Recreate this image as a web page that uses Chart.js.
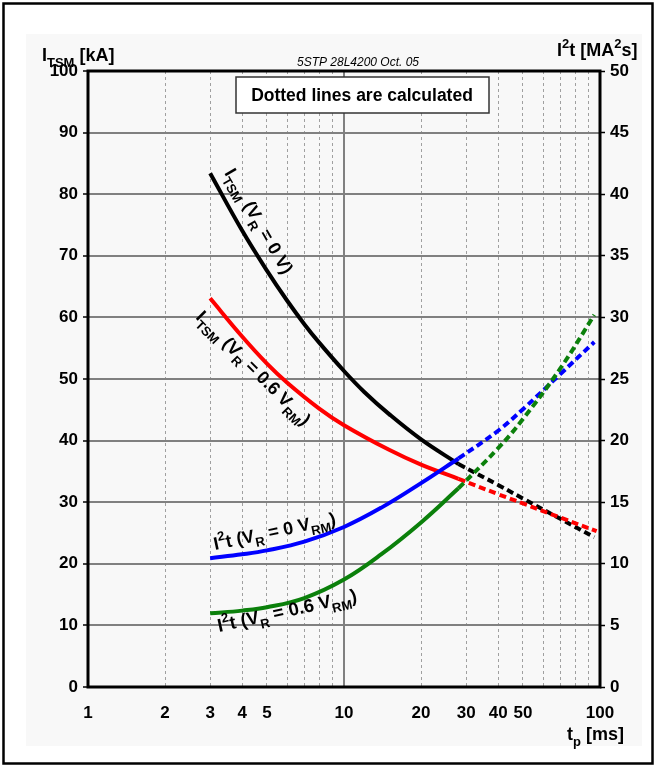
<!DOCTYPE html>
<html><head><meta charset="utf-8">
<script src="https://cdn.jsdelivr.net/npm/chart.js@4/dist/chart.umd.min.js"></script>
<style>html,body{margin:0;padding:0;background:#fff;}canvas{display:block}</style>
</head><body>
<canvas id="c" width="657" height="768"></canvas>
<script>
// ---------- data ----------
const xGridValues = [1,2,3,4,5,6,7,8,9,10,20,30,40,50,60,70,80,90,100];
const xTickLabels = [1,2,3,4,5,10,20,30,40,50,100];

// I_TSM, V_R = 0 V  (kA, left axis)
const tItsm0 = [3,4,5,6,7,8,10,12,15,20,28];
const itsm0 = [83.4,74.1,67.6,62.7,58.9,55.9,51.3,47.9,44.3,40.2,36.2];
const tItsm0Calc = [28,40,50,70,95];
const itsm0Calc = [36.2,32.8,30.6,27.3,24.3];

// I_TSM, V_R = 0.6 V_RM  (kA, left axis)
const tItsm06 = [3,4,5,6,8,10,15,20,28];
const itsm06 = [63.1,56.9,52.5,49.4,45.2,42.5,38.5,36.1,33.8];
const tItsm06Calc = [28,40,50,70,97];
const itsm06Calc = [33.8,31.3,29.8,27.5,25.3];

// I2t, V_R = 0 V_RM  (MA2s, right axis)
const tI2t0 = [3,4,5,7,10,14,20,28];
const i2t0 = [10.45,10.77,11.09,11.8,12.99,14.56,16.55,18.55];
const tI2t0Calc = [28,40,50,70,95];
const i2t0Calc = [18.55,20.8,22.55,25.4,28.0];

// I2t, V_R = 0.6 V_RM  (MA2s, right axis)
const tI2t06 = [3,4,5,7,10,14,20,28];
const i2t06 = [5.98,6.2,6.47,7.22,8.72,10.78,13.36,16.13];
const tI2t06Calc = [28,40,50,70,95];
const i2t06Calc = [16.13,19.38,21.75,25.86,30.2];

// ---------- helpers ----------
const pts = (xs, ys) => xs.map((x, i) => ({x, y: ys[i]}));
const FONT = '"Liberation Sans", Arial, sans-serif';

function line(label, xs, ys, color, axis, dashed) {
  return {
    label, data: pts(xs, ys), yAxisID: axis,
    borderColor: color, borderWidth: 4, borderDash: dashed ? [7,4] : [],
    pointRadius: 0, fill: false, tension: 0.4
  };
}

function rich(ctx, parts, x, y, angle, size) {
  ctx.save();
  ctx.translate(x, y);
  ctx.rotate(angle * Math.PI / 180);
  ctx.fillStyle = '#000';
  ctx.textBaseline = 'alphabetic';
  let cx = 0;
  for (const p of parts) {
    const kind = p[1] || '';
    const s = (kind === 'sub' || kind === 'sup') ? Math.round(size * 0.72) : size;
    ctx.font = 'bold ' + s + 'px ' + FONT;
    const dy = kind === 'sub' ? size * 0.32 : kind === 'sup' ? -size * 0.45 : 0;
    ctx.fillText(p[0], cx, dy);
    cx += ctx.measureText(p[0]).width;
  }
  ctx.restore();
}

const decor = {
  id: 'decor',
  beforeDraw(chart) {
    const ctx = chart.ctx;
    ctx.save();
    ctx.fillStyle = '#fff';
    ctx.fillRect(0, 0, chart.width, chart.height);
    ctx.fillStyle = '#f8f8f8';
    ctx.fillRect(26, 34, 616, 712);
    ctx.strokeStyle = '#000';
    ctx.lineWidth = 2.5;
    ctx.strokeRect(3.5, 3.5, 649, 760);
    ctx.restore();
  },
  beforeDatasetsDraw(chart) {
    const {ctx, chartArea: a} = chart;
    ctx.save();
    ctx.strokeStyle = '#000';
    ctx.lineWidth = 3;
    ctx.strokeRect(a.left, a.top, a.right - a.left, a.bottom - a.top);
    ctx.restore();
  },
  afterDatasetsDraw(chart) {
    const ctx = chart.ctx;
    ctx.save();
    // info box
    ctx.fillStyle = '#fff';
    ctx.fillRect(236, 77, 253, 36);
    ctx.strokeStyle = '#333';
    ctx.lineWidth = 1.5;
    ctx.strokeRect(236, 77, 253, 36);
    ctx.fillStyle = '#000';
    ctx.font = 'bold 17.5px ' + FONT;
    ctx.textAlign = 'center';
    ctx.textBaseline = 'middle';
    ctx.fillText('Dotted lines are calculated', 362, 96);
    // doc id
    ctx.font = 'italic 12px ' + FONT;
    ctx.textBaseline = 'alphabetic';
    ctx.fillText('5STP 28L4200 Oct. 05', 358, 66);
    ctx.restore();

    // axis titles
    rich(ctx, [['I'], ['TSM', 'sub'], [' [kA]']], 42, 61, 0, 18);
    rich(ctx, [['I'], ['2', 'sup'], ['t [MA'], ['2', 'sup'], ['s]']], 557, 56, 0, 18);
    rich(ctx, [['t'], ['p', 'sub'], [' [ms]']], 567, 740, 0, 18);

    // curve labels
    rich(ctx, [['I'], ['TSM', 'sub'], [' (V'], ['R', 'sub'], [' = 0 V)']], 224, 173, 60, 18);
    rich(ctx, [['I'], ['TSM', 'sub'], [' (V'], ['R', 'sub'], [' = 0.6 V'], ['RM', 'sub'], [')']], 195, 318, 45, 18);
    rich(ctx, [['I'], ['2', 'sup'], ['t (V'], ['R', 'sub'], [' = 0 V'], ['RM', 'sub'], [')']], 215, 550, -12, 18);
    rich(ctx, [['I'], ['2', 'sup'], ['t (V'], ['R', 'sub'], [' = 0.6 V'], ['RM', 'sub'], [')']], 219, 632, -12.5, 18.5);
  }
};

const tickFont = {family: FONT, size: 17, weight: 'bold'};

new Chart(document.getElementById('c'), {
  type: 'line',
  data: {
    datasets: [
      line('I2t VR=0.6VRM', tI2t06, i2t06, '#0b800b', 'y2', false),
      line('I2t VR=0.6VRM calc', tI2t06Calc, i2t06Calc, '#0b800b', 'y2', true),
      line('I2t VR=0', tI2t0, i2t0, '#0000ff', 'y2', false),
      line('I2t VR=0 calc', tI2t0Calc, i2t0Calc, '#0000ff', 'y2', true),
      line('ITSM VR=0.6VRM', tItsm06, itsm06, '#ff0000', 'y', false),
      line('ITSM VR=0.6VRM calc', tItsm06Calc, itsm06Calc, '#ff0000', 'y', true),
      line('ITSM VR=0', tItsm0, itsm0, '#000000', 'y', false),
      line('ITSM VR=0 calc', tItsm0Calc, itsm0Calc, '#000000', 'y', true)
    ]
  },
  options: {
    responsive: false,
    animation: false,
    devicePixelRatio: 1,
    layout: {padding: {top: 71, left: 0, right: 0, bottom: 0}},
    plugins: {legend: {display: false}, tooltip: {enabled: false}},
    scales: {
      x: {
        type: 'logarithmic', min: 1, max: 100,
        afterFit(s) { s.height = 81; },
        afterBuildTicks(s) { s.ticks = xGridValues.map(v => ({value: v})); },
        ticks: {
          autoSkip: false, maxRotation: 0, minRotation: 0, padding: 16,
          color: '#000', font: tickFont,
          callback(v) { return xTickLabels.includes(v) ? String(v) : ''; }
        },
        grid: {
          drawTicks: false,
          color(c) { const v = c.tick && c.tick.value; return (v === 1 || v === 100) ? 'rgba(0,0,0,0)' : (v === 10 ? '#808080' : '#a0a0a0'); },
          lineWidth(c) { return (c.tick && c.tick.value === 10) ? 2 : 1; }
        },
        border: {
          display: false,
          dash(c) { return (c.tick && c.tick.value === 10) ? [] : [3, 3]; }
        }
      },
      y: {
        position: 'left', min: 0, max: 100,
        afterFit(s) { s.width = 88; },
        ticks: {stepSize: 10, padding: 5, color: '#000', font: tickFont},
        grid: {
          tickLength: 5, tickColor: '#000', tickWidth: 1.5,
          color(c) { const v = c.tick && c.tick.value; return (v === 0 || v === 100) ? 'rgba(0,0,0,0)' : '#808080'; },
          lineWidth: 2
        },
        border: {display: false}
      },
      y2: {
        position: 'right', min: 0, max: 50,
        afterFit(s) { s.width = 57; },
        ticks: {stepSize: 5, padding: 5, color: '#000', font: tickFont},
        grid: {drawOnChartArea: false, tickLength: 5, tickColor: '#000', tickWidth: 1.5},
        border: {display: false}
      }
    }
  },
  plugins: [decor]
});
</script>
</body></html>
